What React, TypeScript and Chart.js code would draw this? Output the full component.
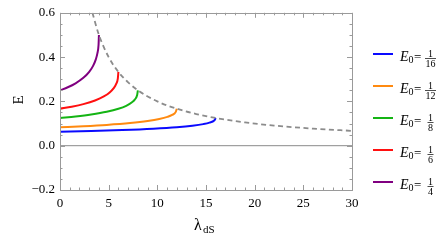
import React, { useEffect, useRef } from "react";
import { Chart, registerables } from "chart.js";

Chart.register(...registerables);

// λ_dS values and energies
const blueL = [0, 3.2, 6.4, 9.6, 12, 13.6, 14.72, 15.36, 15.84, 16];
const blueE = [0.0625, 0.066, 0.0704, 0.0766, 0.0833, 0.0901, 0.0974, 0.1042, 0.1136, 0.125];
const orangeL = [0, 2.4, 4.8, 7.2, 9, 10.2, 11.04, 11.52, 11.88, 12];
const orangeE = [0.0833, 0.088, 0.0939, 0.1021, 0.1111, 0.1201, 0.1299, 0.1389, 0.1515, 0.1667];
const greenL = [0, 1.6, 3.2, 4.8, 6, 6.8, 7.36, 7.68, 7.92, 8];
const greenE = [0.125, 0.132, 0.1409, 0.1531, 0.1667, 0.1802, 0.1949, 0.2083, 0.2273, 0.25];
const redL = [0, 1.2, 2.4, 3.6, 4.5, 5.1, 5.52, 5.76, 5.94, 6];
const redE = [0.1667, 0.176, 0.1878, 0.2042, 0.2222, 0.2403, 0.2599, 0.2778, 0.303, 0.3333];
const purpleL = [0, 0.8, 1.6, 2.4, 3, 3.4, 3.68, 3.84, 3.96, 4];
const purpleE = [0.25, 0.2639, 0.2818, 0.3063, 0.3333, 0.3604, 0.3898, 0.4167, 0.4545, 0.5];
const boundL = [3.33, 4, 5, 6, 7, 8, 10, 12, 14, 16, 19, 22, 26, 30];
const boundE = [0.6, 0.5, 0.4, 0.333, 0.286, 0.25, 0.2, 0.167, 0.143, 0.125, 0.105, 0.091, 0.077, 0.067];
const zeroL = [0, 30];
const zeroE = [0, 0];

const legendDen = ["16", "12", "8", "6", "4"];
const seriesColors = ["#0a0aff", "#ff8a10", "#14b414", "#ff1010", "#800080"];

const xMin = 0, xMax = 30, yMin = -0.2, yMax = 0.6;

const pts = (xs: number[], ys: number[]) => xs.map((x, i) => ({ x, y: ys[i] }));

const FRAME = "#9a9a9a";
const SERIF = "'Liberation Serif', 'DejaVu Serif', serif";

const decorPlugin = {
  id: "decor",
  afterDraw(chart: any) {
    const { ctx, chartArea } = chart;
    const { left, right, top, bottom } = chartArea;
    const xs = chart.scales.x;
    const ys = chart.scales.y;
    ctx.save();
    // frame
    ctx.strokeStyle = FRAME;
    ctx.lineWidth = 1;
    ctx.strokeRect(Math.round(left) + 0.5, Math.round(top) + 0.5, Math.round(right - left), Math.round(bottom - top));
    // ticks
    ctx.beginPath();
    for (let v = xMin; v <= xMax; v += 1) {
      const p = Math.round(xs.getPixelForValue(v)) + 0.5;
      const len = v % 5 === 0 ? 5 : 2.5;
      ctx.moveTo(p, bottom); ctx.lineTo(p, bottom - len);
      ctx.moveTo(p, top); ctx.lineTo(p, top + len);
    }
    for (let i = 0; i <= 16; i++) {
      const v = yMin + i * 0.05;
      const p = Math.round(ys.getPixelForValue(v)) + 0.5;
      const len = i % 4 === 0 ? 5 : 2.5;
      ctx.moveTo(left, p); ctx.lineTo(left + len, p);
      ctx.moveTo(right, p); ctx.lineTo(right - len, p);
    }
    ctx.stroke();

    // axis titles
    ctx.fillStyle = "#000";
    ctx.font = `15px ${SERIF}`;
    ctx.textAlign = "center";
    ctx.textBaseline = "alphabetic";
    ctx.save();
    ctx.translate(23, 100);
    ctx.rotate(-Math.PI / 2);
    ctx.fillText("E", 0, 0);
    ctx.restore();
    ctx.textAlign = "left";
    ctx.font = `16px ${SERIF}`;
    ctx.fillText("λ", 194, 230);
    ctx.font = `11px ${SERIF}`;
    ctx.fillText("dS", 203, 233);

    // legend
    const rows = [54, 86, 118, 150, 182];
    rows.forEach((ry, i) => {
      ctx.strokeStyle = seriesColors[i];
      ctx.lineWidth = 2;
      ctx.beginPath();
      ctx.moveTo(373, ry); ctx.lineTo(393, ry);
      ctx.stroke();
      ctx.fillStyle = "#000";
      ctx.textAlign = "left";
      ctx.font = `italic 14px ${SERIF}`;
      ctx.fillText("E", 400, ry + 7);
      ctx.font = `10px ${SERIF}`;
      ctx.fillText("0", 408.5, ry + 9);
      ctx.font = `13px ${SERIF}`;
      ctx.fillText("=", 414, ry + 7);
      const cx = 430.5;
      ctx.textAlign = "center";
      ctx.font = `10px ${SERIF}`;
      ctx.fillText("1", cx, ry + 2.5);
      ctx.fillText(legendDen[i], cx, ry + 12.5);
      const w = legendDen[i].length > 1 ? 11 : 6;
      ctx.strokeStyle = "#000";
      ctx.lineWidth = 0.7;
      ctx.beginPath();
      ctx.moveTo(cx - w / 2, ry + 4.5); ctx.lineTo(cx + w / 2, ry + 4.5);
      ctx.stroke();
    });
    ctx.restore();
  },
};

export default function App() {
  const ref = useRef<HTMLCanvasElement | null>(null);
  useEffect(() => {
    if (!ref.current) return;
    const line = (data: any, color: string, extra: any = {}) => ({
      data,
      borderColor: color,
      backgroundColor: color,
      borderWidth: 2,
      pointRadius: 0,
      cubicInterpolationMode: "monotone",
      fill: false,
      ...extra,
    });
    const chart = new Chart(ref.current, {
      type: "line",
      data: {
        datasets: [
          line(pts(zeroL, zeroE), "#8a8a8a", { borderWidth: 1 }),
          line(pts(boundL, boundE), "#8c8c8c", { borderDash: [5, 3.5], borderWidth: 1.8 }),
          line(pts(blueL, blueE), seriesColors[0]),
          line(pts(orangeL, orangeE), seriesColors[1]),
          line(pts(greenL, greenE), seriesColors[2]),
          line(pts(redL, redE), seriesColors[3]),
          line(pts(purpleL, purpleE), seriesColors[4]),
        ] as any,
      },
      options: {
        animation: false,
        responsive: false,
        maintainAspectRatio: false,
        layout: { padding: { left: 0, right: 96, top: 10, bottom: 0 } },
        plugins: { legend: { display: false }, tooltip: { enabled: false } },
        scales: {
          x: {
            type: "linear",
            min: xMin,
            max: xMax,
            grid: { display: false, drawTicks: false },
            border: { display: false },
            ticks: {
              stepSize: 5,
              padding: 6,
              color: "#000",
              maxRotation: 0,
              font: { family: SERIF, size: 13 },
            },
            afterFit: (s: any) => { s.height = 50; },
          },
          y: {
            type: "linear",
            min: yMin,
            max: yMax,
            grid: { display: false, drawTicks: false },
            border: { display: false },
            ticks: {
              stepSize: 0.2,
              padding: 5,
              color: "#000",
              font: { family: SERIF, size: 13 },
              callback: (v: any) => {
                const n = Number(v);
                const s = Math.abs(n).toFixed(1);
                return n < -1e-9 ? "\u2212" + s : s;
              },
            },
            afterFit: (s: any) => { s.width = 60; },
          },
        },
      },
      plugins: [decorPlugin],
    } as any);
    return () => chart.destroy();
  }, []);
  return (
    <div style={{ position: "absolute", left: 0, top: 0, width: 448, height: 240 }}>
      <canvas ref={ref} width={448} height={240} />
    </div>
  );
}
